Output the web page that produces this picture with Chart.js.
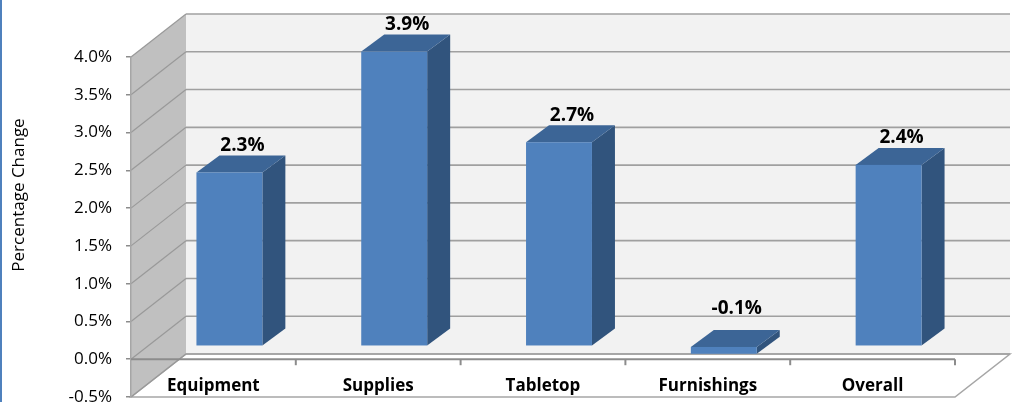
<!DOCTYPE html>
<html>
<head>
<meta charset="utf-8">
<script src="https://cdn.jsdelivr.net/npm/chart.js@4.4.0/dist/chart.umd.min.js"></script>
<style>
    html, body { margin: 0; padding: 0; background: #fff; }
    #wrap { width: 1013px; height: 402px; }
</style>
</head>
<body>
<div id="wrap"><canvas id="chart" width="1013" height="402"></canvas></div>
<script>
const categories = ['Equipment', 'Supplies', 'Tabletop', 'Furnishings', 'Overall'];
const changes = [2.3, 3.9, 2.7, -0.1, 2.4];
const axisMin = -0.5;
const axisMax = 4.0;
const axisStep = 0.5;
const axisTitle = 'Percentage Change';

const FONT = '"Open Sans", "Liberation Sans", sans-serif';
// depth of the walls and of each column, in pixels
const WALL_DX = 55, WALL_DY = -43;
const BAR_DX = 23, BAR_DY = -17;
const PLANE_DX = 16, PLANE_DY = -13;

function poly(ctx, pts, fill, stroke, lw) {
    ctx.beginPath();
    ctx.moveTo(pts[0][0], pts[0][1]);
    pts.slice(1).forEach((p) => ctx.lineTo(p[0], p[1]));
    ctx.closePath();
    if (fill) {
        ctx.fillStyle = fill;
        ctx.fill();
    }
    if (stroke) {
        ctx.strokeStyle = stroke;
        ctx.lineWidth = lw || 1;
        ctx.stroke();
    }
}

function line(ctx, x1, y1, x2, y2, color, lw) {
    ctx.beginPath();
    ctx.moveTo(x1, y1);
    ctx.lineTo(x2, y2);
    ctx.strokeStyle = color;
    ctx.lineWidth = lw;
    ctx.stroke();
}

const walls = {
    id: 'walls',
    beforeDraw(chart) {
        const ctx = chart.ctx;
        const a = chart.chartArea;
        const y = chart.scales.y;
        ctx.save();
        ctx.fillStyle = '#fff';
        ctx.fillRect(0, 0, chart.width, chart.height);
        // blue frame edge on the left
        ctx.fillStyle = '#4f81bd';
        ctx.fillRect(0, 0, 2, chart.height);

        // back wall
        poly(ctx, [
            [a.left + WALL_DX, a.top + WALL_DY],
            [a.right + WALL_DX, a.top + WALL_DY],
            [a.right + WALL_DX, a.bottom + WALL_DY],
            [a.left + WALL_DX, a.bottom + WALL_DY],
        ], '#f2f2f2');
        // side wall
        poly(ctx, [
            [a.left, a.top],
            [a.left + WALL_DX, a.top + WALL_DY],
            [a.left + WALL_DX, a.bottom + WALL_DY],
            [a.left, a.bottom],
        ], '#c0c0c0');
        // floor
        poly(ctx, [
            [a.left, a.bottom],
            [a.left + WALL_DX, a.bottom + WALL_DY],
            [a.right + WALL_DX, a.bottom + WALL_DY],
            [a.right, a.bottom],
        ], '#ffffff', '#a6a6a6', 1.5);

        y.ticks.forEach((t) => {
            const py = y.getPixelForValue(t.value);
            line(ctx, a.left + WALL_DX, py + WALL_DY, a.right + WALL_DX, py + WALL_DY, '#a0a0a0', 1.6);
            line(ctx, a.left, py, a.left + WALL_DX, py + WALL_DY, '#999999', 1.2);
        });

        // axis title
        ctx.translate(19, 195);
        ctx.rotate(-Math.PI / 2);
        ctx.fillStyle = '#000';
        ctx.font = '17px ' + FONT;
        ctx.textAlign = 'center';
        ctx.textBaseline = 'middle';
        ctx.fillText(axisTitle, 0, 0);
        ctx.restore();
    },
    afterDatasetsDraw(chart) {
        const ctx = chart.ctx;
        const a = chart.chartArea;
        const x = chart.scales.x;
        const y = chart.scales.y;
        const y0 = y.getPixelForValue(0);
        const step = (a.right - a.left) / categories.length;
        ctx.save();

        // category axis at zero
        line(ctx, a.left, y0, a.right, y0, '#8c8c8c', 2);
        for (let i = 1; i <= categories.length; i++) {
            const px = a.left + i * step;
            line(ctx, px, y0, px, y0 + 6, '#8c8c8c', 2);
        }

        // columns
        const meta = chart.getDatasetMeta(0);
        meta.data.forEach((bar, i) => {
            const p = bar.getProps(['x', 'y', 'base', 'width'], true);
            const l = p.x - p.width / 2 + PLANE_DX;
            const r = p.x + p.width / 2 + PLANE_DX;
            const top = Math.min(p.y, p.base) + PLANE_DY;
            const bot = Math.max(p.y, p.base) + PLANE_DY;
            poly(ctx, [[r, top], [r + BAR_DX, top + BAR_DY], [r + BAR_DX, bot + BAR_DY], [r, bot]], '#31547d');
            poly(ctx, [[l, top], [l + BAR_DX, top + BAR_DY], [r + BAR_DX, top + BAR_DY], [r, top]], '#3c6596');
            ctx.fillStyle = '#4f81bd';
            ctx.fillRect(l, top, r - l, bot - top);

            // value label
            const v = changes[i];
            ctx.fillStyle = '#000';
            ctx.font = 'bold 19px ' + FONT;
            ctx.textAlign = 'center';
            ctx.textBaseline = 'middle';
            const ly = top - (v < 0 ? 38 : 27);
            ctx.fillText(v.toFixed(1) + '%', p.x + 29, ly);
        });

        // category labels
        ctx.fillStyle = '#000';
        ctx.font = 'bold 17px ' + FONT;
        ctx.textAlign = 'center';
        ctx.textBaseline = 'middle';
        categories.forEach((c, i) => {
            ctx.fillText(c, x.getPixelForValue(i), y0 + 27);
        });
        ctx.restore();
    },
};

new Chart(document.getElementById('chart'), {
    type: 'bar',
    data: {
        labels: categories,
        datasets: [
            {
                data: changes,
                backgroundColor: 'rgba(0,0,0,0)',
                borderWidth: 0,
                categoryPercentage: 1.0,
                barPercentage: 0.4,
            },
        ],
    },
    options: {
        responsive: false,
        animation: false,
        devicePixelRatio: 1,
        layout: { padding: { left: 0, top: 57, right: 58, bottom: 5 } },
        plugins: {
            legend: { display: false },
            tooltip: { enabled: false },
        },
        scales: {
            x: { display: false },
            y: {
                min: axisMin,
                max: axisMax,
                afterFit: (s) => {
                    s.width = 131;
                    s.paddingTop = 0;
                    s.paddingBottom = 0;
                },
                ticks: {
                    stepSize: axisStep,
                    padding: 14,
                    color: '#000',
                    font: { family: FONT, size: 17 },
                    callback: (v) => v.toFixed(1) + '%',
                },
                grid: {
                    drawOnChartArea: false,
                    drawTicks: true,
                    tickLength: 5,
                    color: '#8c8c8c',
                    lineWidth: 1.5,
                },
                border: { display: true, color: '#a6a6a6', width: 1.5 },
            },
        },
    },
    plugins: [walls],
});
</script>
</body>
</html>
